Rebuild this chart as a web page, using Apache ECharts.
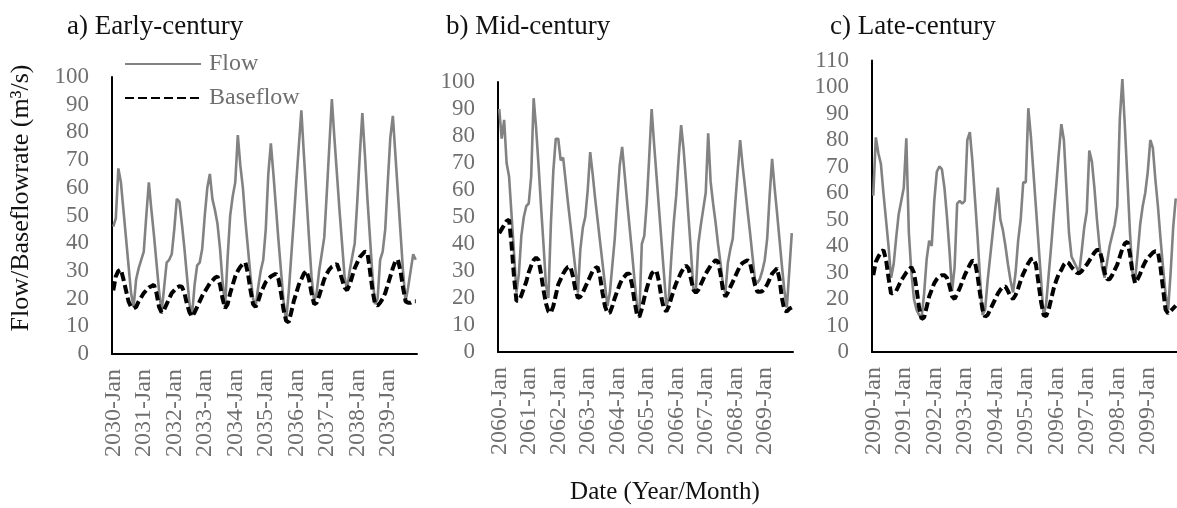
<!DOCTYPE html>
<html>
<head>
<meta charset="utf-8">
<script src="https://cdn.jsdelivr.net/npm/echarts@6/dist/echarts.min.js"></script>
<style>
html,body{margin:0;padding:0;background:#fff;}
#chart{width:1177px;height:508px;}
</style>
</head>
<body>
<div id="chart"></div>
<script>
// ---- Data ----
const monthNames = ['Jan','Feb','Mar','Apr','May','Jun','Jul','Aug','Sep','Oct','Nov','Dec'];
const yearsA = [2030,2031,2032,2033,2034,2035,2036,2037,2038,2039];
const yearsB = [2060,2061,2062,2063,2064,2065,2066,2067,2068,2069];
const yearsC = [2090,2091,2092,2093,2094,2095,2096,2097,2098,2099];
const panelTitles = ['a) Early-century','b) Mid-century','c) Late-century'];
const seriesNames = ['Flow','Baseflow'];

const flowA = [46,49,67,62,52,42,32,22,17,27,31,34,
 37,50,62,52,43,33,23,15,24,33,34,36,
 45,56,55,47,38,28,18,14,25,32,33,38,
 50,60,65,56,52,47,38,26,17,35,50,57,
 62,79,68,60,48,38,28,20,17,24,30,34,
 45,65,76,65,53,41,30,19,12,22,35,48,
 62,75,88,72,57,42,28,19,22,30,36,42,
 58,75,92,78,65,52,40,28,23,30,35,40,
 55,72,87,72,56,42,28,18,20,34,37,45,
 62,78,86,72,58,44,30,19,24,30,36,34];
const baseA = [23,28,30,30.5,27,23,19,17,16.5,17,19,20.5,
 22,23,24,24.5,25,22,17,15,16,18,20,22,
 23,24,24.5,24.3,22,18,15,13.5,15,17,19,21,
 22.5,24,25.5,26.5,27.5,28,25,20,16.5,18,22,25,
 28,30,31.5,32.5,33,29,23,18,17,19,22,24,
 26,27,28,28.5,29,27,22,16,12,11.5,15,19,
 22,25,27,29,30,27,22,18,18.5,21,24,27,
 29,30.5,31.5,32,32.5,30,27,24,23,25,28,31,
 33,35,36,37,36.5,30,23,18,17.5,18.5,20,22,
 25,28,31,33.5,34,30,24,19,18.5,18.5,19,19];

const flowB = [90,79,86,70,65,51,37,22,29,43,50,54,
 55,65,94,83,69,54,40,25,20,47,67,79,
 79,71,72,63.5,55,47,38.8,30.5,22,38,46,50,
 60,74,66,57,49,41,33,25,17,22,32,42,
 56,69,76,66,56,46.5,37,27,17.6,14,40,43,
 55,72,90,77,65,53,41,29,17,20,35,48,
 58,72,84,75,63,50,37,23,23,40,47,53,
 59,81,63,55,48,40,33,25,22,33,38,42,
 55,67,78.5,69,61,52.5,44.4,35.7,27,25.5,27,30,
 34,42,58,71.5,61,51.6,41.7,31.8,22.7,16.5,30,44];
const baseB = [44,45.5,47,48.5,49,40,28,19,19,21,23.5,26,
 29.5,32,34,35,34,29,23,18,15,14.5,17,21,
 25,27,29,30.5,31.5,31.5,28,23,20,20.5,22,24,
 26,28,30,31,31.5,28,22,17,14.5,14.5,17,20,
 22.5,25,27,28,29,29,25,19,14,13,16,20,
 23.5,26.5,29,30,30,26,20,16,15,17,20,23,
 25.5,27.5,29.5,31,32,31,27,23,22,23,25,27,
 29,30.5,32,33,34,33.5,29,23,20.5,22,24,26,
 28,30,32,33,33.5,34,33,29,25,22.3,22.3,22.5,
 23.5,25,27,29,30,31,27,20,15.5,15,16,16.5];

const flowC = [59,81,75,71,60,50,40,28,33,43,52,57,
 62,80.6,45,30,20,16,14,13,22,35,42,40,
 57,68,70,69,62,51,38,23,32,56,57,56,
 57,80,83,72,58,44,28,14,16,27,36,45,
 54,62,50,46,40,33,27,22.5,30,42,50,64,
 64,92,81.5,68,54.6,41,27.5,13.5,18,29,40,52,
 63,75,86,80,62,45,36,34,32,30,38,47,
 53,76,72,62,50,40,32,28,34,40,44,48,
 55,88,103,85,65,45,30,27,37,48,55,60,
 68,80,77,65,55,43,32,22,16,30,47,58];
const baseC = [29,34,36,37.5,38.5,35,28,22,22.5,23,25,27,
 28.5,30,31,32,30,24,17,12.5,13,17,21,23.5,
 26,27.5,28.5,29,29,28,25,21,20,22,24,26.5,
 29,31,33,34.5,34,29,22,16,13.3,14,16,18,
 20,22,23.5,24.5,24.7,23,21,20,21.5,24,27,29.5,
 31.5,33.5,35,35.3,33,26,19,14,13.5,16,20,24,
 27,29.5,31,33,34,33.5,32,31,30,29.7,30.5,32,
 33,34.5,36,37.5,38.5,38.5,35,30,27.5,27.5,29,31,
 33,36,39,41,41.6,37,30,26,27.5,29.5,32,34,
 35.5,36.5,37.5,38,37.8,32,24,16,14.6,15.5,16.5,17.5];

// ---- Build ----
function cats(years){ const c=[]; years.forEach(y=>monthNames.forEach(m=>c.push(y+'-'+m))); return c; }
const FONT = 'Liberation Serif, Times New Roman, serif';
const GRAY = '#6f6f6f';
const panels = [
  {years:yearsA, flow:flowA, base:baseA, grid:{left:112, top:77, width:305, height:277}, max:100},
  {years:yearsB, flow:flowB, base:baseB, grid:{left:498, top:82, width:295, height:270}, max:100},
  {years:yearsC, flow:flowC, base:baseC, grid:{left:872, top:60.5, width:308, height:291.5}, max:110}
];

const option = {
  animation:false,
  backgroundColor:'#fff',
  title: panelTitles.map((t,i)=>({text:t, left:[62,441,825][i], top:8,
    textStyle:{fontFamily:FONT, fontSize:27, fontWeight:'normal', color:'#111'}})),
  legend:{orient:'vertical', left:124, top:52, padding:0, itemWidth:76, itemHeight:14, itemGap:10,
    itemStyle:{opacity:0},
    data:seriesNames, textStyle:{fontFamily:FONT, fontSize:24, color:GRAY, padding:[0,0,0,3]}},
  grid: panels.map(p=>Object.assign({containLabel:false}, p.grid)),
  xAxis: panels.map((p,i)=>({type:'category', gridIndex:i, data:cats(p.years), boundaryGap:true,
    axisLine:{lineStyle:{color:'#000', width:2}}, axisTick:{show:false},
    axisLabel:{interval:11, rotate:90, margin:15, fontFamily:FONT, fontSize:24, color:GRAY}})),
  yAxis: panels.map((p,i)=>({type:'value', gridIndex:i, min:0, max:p.max, interval:10,
    splitLine:{show:false}, axisTick:{show:false},
    axisLine:{show:true, lineStyle:{color:'#000', width:2}},
    axisLabel:{margin:23, fontFamily:FONT, fontSize:23, color:GRAY}})),
  series: [],
  graphic:[
    {type:'text', x:21, y:198, rotation:Math.PI/2,
      style:{text:'Flow/Baseflowrate (m³/s)', fontFamily:FONT, fontSize:26, fill:'#111', align:'center', verticalAlign:'middle'}},
    {type:'text', x:665, y:492,
      style:{text:'Date (Year/Month)', fontFamily:FONT, fontSize:25, fill:'#111', align:'center', verticalAlign:'middle'}}
  ]
};
panels.forEach((p,i)=>{
  option.series.push({name:seriesNames[0], type:'line', xAxisIndex:i, yAxisIndex:i, data:p.flow,
    symbol:'none', showSymbol:false, lineStyle:{color:'#828282', width:2.6}, itemStyle:{color:'#828282'}});
  option.series.push({name:seriesNames[1], type:'line', xAxisIndex:i, yAxisIndex:i, data:p.base,
    symbol:'none', showSymbol:false, lineStyle:{color:'#000', width:4, type:[9,4]}, itemStyle:{color:'#000'}});
});
const chart = echarts.init(document.getElementById('chart'), null, {renderer:'canvas'});
chart.setOption(option);
</script>
</body>
</html>
